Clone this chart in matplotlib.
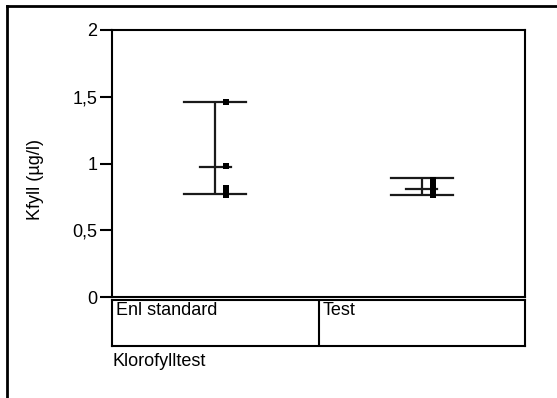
import matplotlib
matplotlib.use("Agg")
import matplotlib.pyplot as plt
from matplotlib.lines import Line2D
import numpy as np

plt.rcParams['font.family'] = ['Liberation Sans', 'DejaVu Sans']

categories = ["Enl standard", "Test"]
group_title = "Klorofylltest"
y_label = "Kfyll (µg/l)"
y_ticks = [0, 0.5, 1, 1.5, 2]
y_tick_labels = ["0", "0,5", "1", "1,5", "2"]

# individual observations per category
points_enl = [1.46, 0.985, 0.82, 0.79, 0.765]
points_test = [0.88, 0.83, 0.80, 0.78, 0.765]
# summary lines: upper, middle, lower
upper = [1.46, 0.89]
middle = [0.975, 0.81]
lower = [0.775, 0.765]

W, H = 557, 398
FS = 13
fig = plt.figure(figsize=(W / 100, H / 100), dpi=100)

def px(x0, y0, x1, y1):
    return [x0 / W, 1 - y1 / H, (x1 - x0) / W, (y1 - y0) / H]

ax = fig.add_axes(px(112, 30, 525, 297))
ax.set_xlim(-0.5, 1.5)
ax.set_ylim(0, 2)
for s in ax.spines.values():
    s.set_linewidth(1.5)
ax.set_yticks(y_ticks)
ax.set_yticklabels(y_tick_labels, fontsize=FS)
ax.tick_params(axis='y', length=8.6, width=1.5, pad=2)
ax.set_xticks([])

fig.text(35 / W, 1 - 179 / H, y_label, fontsize=FS, rotation=90,
         ha='center', va='center')

all_points = [points_enl, points_test]
for i in range(len(categories)):
    c = '#1a1a1a'
    ax.plot([i, i], [lower[i], upper[i]], color=c, lw=1.6, solid_capstyle='butt')
    ax.plot([i - 0.15, i + 0.15], [upper[i], upper[i]], color=c, lw=1.6)
    ax.plot([i - 0.15, i + 0.15], [lower[i], lower[i]], color=c, lw=1.6)
    ax.plot([i - 0.075, i + 0.075], [middle[i], middle[i]], color=c, lw=1.6)
    ax.plot([i + 0.053] * len(all_points[i]), all_points[i], 's', color='black',
            ms=4.5, mew=0)

cax = fig.add_axes(px(112, 300, 525, 346))
cax.set_xlim(-0.5, 1.5)
cax.set_ylim(0, 1)
cax.set_xticks([])
cax.set_yticks([])
for s in cax.spines.values():
    s.set_linewidth(1.5)
cax.axvline(0.5, color='black', lw=1.5)
for i, cat in enumerate(categories):
    cax.text(i - 0.5 + 0.02, 0.96, cat, fontsize=FS, va='top', ha='left')

fig.text(112 / W, 1 - 361 / H, group_title, fontsize=FS, va='center', ha='left')

# outer frame (left and top)
fig.add_artist(Line2D([7 / W, 7 / W], [0, 1 - 6 / H], color='black', lw=2,
                      transform=fig.transFigure))
fig.add_artist(Line2D([7 / W, 1], [1 - 6 / H, 1 - 6 / H], color='black', lw=2,
                      transform=fig.transFigure))

fig.savefig("out.png", dpi=100)
